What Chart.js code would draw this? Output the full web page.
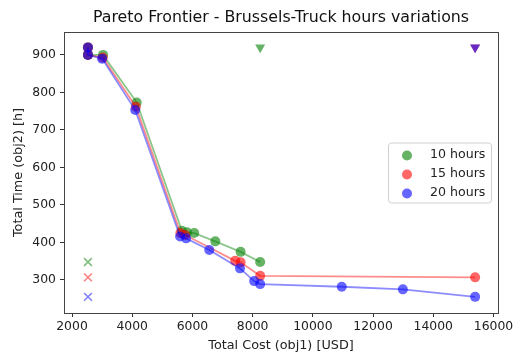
<!DOCTYPE html>
<html>
<head>
<meta charset="utf-8">
<script src="https://cdn.jsdelivr.net/npm/chart.js@4/dist/chart.umd.min.js"></script>
<style>
  html, body { margin: 0; padding: 0; background: #fff; }
</style>
</head>
<body>
<canvas id="pareto" width="513" height="355"></canvas>
<script>
  // frontier runs, one per truck-hours setting
  const cost10 = [2530, 2530, 3030, 4150, 5650, 5820, 6060, 6760, 7600, 8250];
  const time10 = [920, 900, 900, 773, 431, 427, 425, 403, 375, 348];

  const cost15 = [2530, 2530, 3020, 4120, 5600, 5760, 7420, 7600, 8250, 15390];
  const time15 = [920, 900, 893, 762, 425, 420, 351, 347, 311, 307];

  const cost20 = [2530, 2530, 3000, 4100, 5590, 5790, 6560, 7580, 8050, 8250, 10960, 12990, 15390];
  const time20 = [920, 900, 890, 753, 416, 411, 380, 331, 297, 289, 282, 275, 255];

  // ideal (min cost, min time) and nadir (max cost, max time) per run
  const idealCost = [2530, 2530, 2530];
  const idealTime = [348, 307, 255];
  const nadirCost = [8250, 15390, 15390];
  const nadirTime = [920, 920, 920];

  const runLabels = ['10 hours', '15 hours', '20 hours'];
  const runRgb = ['0,128,0', '255,0,0', '0,0,255'];

  const xTicks = [2000, 4000, 6000, 8000, 10000, 12000, 14000, 16000];
  const yTicks = [300, 400, 500, 600, 700, 800, 900];

  const TITLE = 'Pareto Frontier - Brussels-Truck hours variations';
  const FONT = 'DejaVu Sans';
  const pts = (xs, ys) => xs.map((x, i) => ({ x, y: ys[i] }));
  const rgba = (i, a) => `rgba(${runRgb[i]},${a})`;

  const runs = [[cost10, time10], [cost15, time15], [cost20, time20]];

  const datasets = [];
  runs.forEach(([c, t], i) => {
    datasets.push({
      label: runLabels[i],
      data: pts(c, t),
      showLine: true,
      borderColor: rgba(i, 0.45),
      borderWidth: 1.8,
      pointRadius: 5,
      pointBackgroundColor: rgba(i, 0.6),
      pointBorderWidth: 0,
      order: 3 - i,
    });
    datasets.push({
      label: runLabels[i] + ' ideal',
      data: [{ x: idealCost[i], y: idealTime[i] }],
      pointStyle: 'crossRot',
      pointRadius: 5.5,
      pointBorderColor: rgba(i, 0.5),
      pointBorderWidth: 1.6,
      order: 3 - i,
    });
    datasets.push({
      label: runLabels[i] + ' nadir',
      data: [{ x: nadirCost[i], y: nadirTime[i] }],
      pointStyle: 'triangle',
      rotation: 180,
      pointRadius: 5.8,
      pointBackgroundColor: rgba(i, 0.6),
      pointBorderWidth: 0,
      order: 3 - i,
    });
  });

  // title centred over the plot area, plus a closed frame around it
  const frame = {
    id: 'frame',
    afterDraw(chart) {
      const { ctx, chartArea: a } = chart;
      ctx.save();
      ctx.strokeStyle = '#444';
      ctx.lineWidth = 1;
      ctx.strokeRect(Math.round(a.left) + 0.5, Math.round(a.top) + 0.5,
        Math.round(a.right - a.left), Math.round(a.bottom - a.top));
      ctx.font = `15.8px "${FONT}"`;
      ctx.fillStyle = '#111';
      ctx.textAlign = 'center';
      ctx.textBaseline = 'middle';
      ctx.fillText(TITLE, (a.left + a.right) / 2, 18);
      ctx.restore();
    }
  };

  // legend box at the centre right of the plot area
  const boxLegend = {
    id: 'boxLegend',
    afterDraw(chart) {
      const { ctx, chartArea: a } = chart;
      const w = 103, h = 60;
      const left = a.right - 7 - w;
      const top = (a.top + a.bottom) / 2 - h / 2;
      ctx.save();
      ctx.beginPath();
      ctx.roundRect(left + 0.5, top + 0.5, w, h, 3);
      ctx.fillStyle = 'rgba(255,255,255,0.8)';
      ctx.fill();
      ctx.strokeStyle = '#d0d0d0';
      ctx.lineWidth = 1;
      ctx.stroke();
      ctx.font = `12.6px "${FONT}"`;
      ctx.textBaseline = 'middle';
      runLabels.forEach((label, i) => {
        const y = top + 12 + i * 19;
        ctx.beginPath();
        ctx.arc(left + 19, y + 1, 5, 0, Math.PI * 2);
        ctx.fillStyle = rgba(i, 0.6);
        ctx.fill();
        ctx.fillStyle = '#222';
        ctx.fillText(label, left + 42, y);
      });
      ctx.restore();
    }
  };

  new Chart(document.getElementById('pareto'), {
    type: 'scatter',
    data: { datasets },
    options: {
      responsive: false,
      animation: false,
      layout: { padding: { left: 0, right: 15, top: 32, bottom: 0 } },
      plugins: {
        legend: { display: false },
        tooltip: { enabled: false },
        title: { display: false },
      },
      scales: {
        x: {
          type: 'linear',
          min: 1734,
          max: 16150,
          afterBuildTicks: s => { s.ticks = xTicks.map(value => ({ value })); },
          afterFit: s => { s.height = 42; s.paddingLeft = 0; s.paddingRight = 0; },
          grid: { drawOnChartArea: false, tickLength: 4, tickColor: '#333' },
          border: { color: '#444' },
          ticks: {
            color: '#222', padding: 2, maxRotation: 0,
            font: { family: FONT, size: 12.4 },
            callback: v => String(v),
          },
          title: {
            display: true, text: 'Total Cost (obj1) [USD]', color: '#222',
            font: { family: FONT, size: 12.8 }, padding: { top: 0, bottom: 2 },
          },
        },
        y: {
          type: 'linear',
          min: 212,
          max: 961,
          afterBuildTicks: s => { s.ticks = yTicks.map(value => ({ value })); },
          afterFit: s => { s.width = 64; s.paddingTop = 0; s.paddingBottom = 0; },
          grid: { drawOnChartArea: false, tickLength: 4, tickColor: '#333' },
          border: { color: '#444' },
          ticks: {
            color: '#222', padding: 4,
            font: { family: FONT, size: 12.4 },
            callback: v => String(v),
          },
          title: {
            display: true, text: 'Total Time (obj2) [h]', color: '#222',
            font: { family: FONT, size: 12.8 }, padding: { top: 11, bottom: 0 },
          },
        },
      },
    },
    plugins: [frame, boxLegend],
  });
</script>
</body>
</html>
